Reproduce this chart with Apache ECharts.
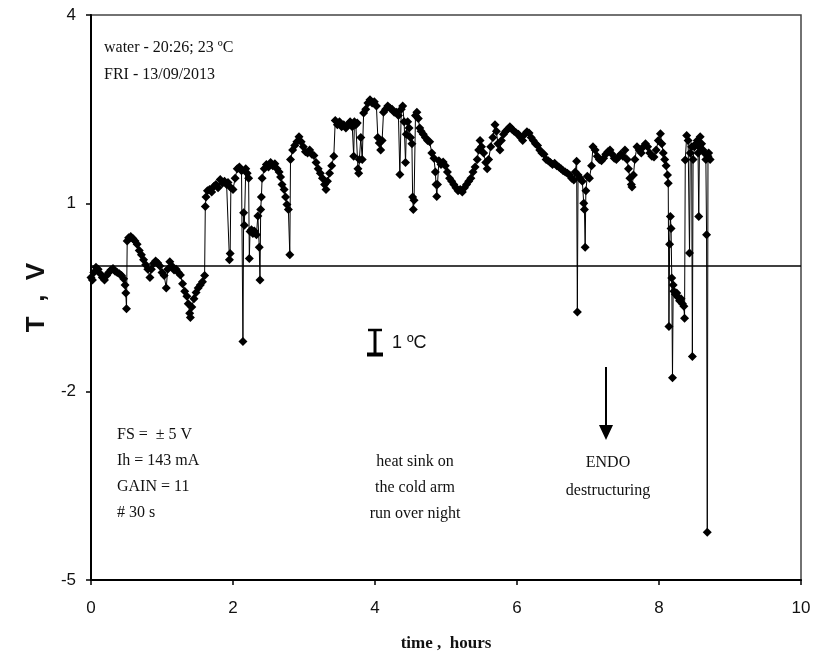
<!DOCTYPE html>
<html><head><meta charset="utf-8">
<script src="https://cdn.jsdelivr.net/npm/echarts@6/dist/echarts.min.js"></script>
<style>html,body{margin:0;padding:0;background:#fff}#c{width:816px;height:658px}</style>
</head><body><div id="c"></div>
<script>
// time in hours
const timeHours = [
0.00,0.02,0.04,0.07,0.10,0.13,0.16,0.19,0.22,0.25,0.28,0.31,0.34,0.37,0.40,0.43,0.46,0.48,0.49,0.50,
0.51,0.53,0.56,0.59,0.62,0.65,0.68,0.71,0.74,0.77,0.80,0.83,0.85,0.88,0.91,0.94,0.97,1.00,1.03,1.06,
1.08,1.11,1.14,1.17,1.20,1.23,1.26,1.29,1.32,1.35,1.37,1.39,1.40,1.42,1.45,1.48,1.51,1.54,1.57,1.60,
1.61,1.62,1.64,1.67,1.70,1.73,1.76,1.79,1.82,1.85,1.88,1.91,1.93,1.95,1.96,1.97,2.00,2.03,2.06,2.09,
2.12,2.14,2.15,2.16,2.18,2.20,2.22,2.23,2.24,2.26,2.28,2.30,2.33,2.35,2.37,2.38,2.39,2.40,2.41,2.44,
2.47,2.50,2.53,2.56,2.59,2.62,2.65,2.67,2.69,2.72,2.74,2.76,2.78,2.80,2.81,2.84,2.87,2.90,2.93,2.96,
2.99,3.02,3.05,3.08,3.11,3.14,3.17,3.20,3.23,3.26,3.29,3.31,3.33,3.36,3.39,3.42,3.44,3.47,3.50,3.53,
3.56,3.59,3.62,3.65,3.68,3.70,3.71,3.73,3.75,3.76,3.77,3.78,3.80,3.82,3.84,3.87,3.90,3.93,3.96,3.99,
4.02,4.04,4.06,4.08,4.10,4.12,4.15,4.18,4.21,4.24,4.27,4.30,4.33,4.35,4.37,4.39,4.41,4.43,4.44,4.46,
4.48,4.50,4.52,4.53,4.54,4.55,4.57,4.59,4.61,4.63,4.65,4.68,4.71,4.74,4.77,4.80,4.83,4.85,4.86,4.87,
4.88,4.90,4.93,4.96,4.99,5.02,5.05,5.08,5.11,5.14,5.17,5.20,5.23,5.26,5.29,5.32,5.35,5.38,5.41,5.44,
5.46,5.48,5.50,5.53,5.56,5.58,5.60,5.63,5.66,5.69,5.71,5.73,5.76,5.78,5.81,5.84,5.87,5.90,5.93,5.96,
5.99,6.02,6.05,6.08,6.11,6.14,6.17,6.20,6.23,6.26,6.29,6.32,6.35,6.38,6.41,6.44,6.47,6.50,6.53,6.56,
6.59,6.62,6.65,6.68,6.71,6.74,6.77,6.80,6.82,6.84,6.85,6.86,6.89,6.92,6.94,6.95,6.96,6.97,6.99,7.02,
7.05,7.07,7.10,7.13,7.16,7.19,7.22,7.25,7.28,7.31,7.34,7.37,7.40,7.43,7.46,7.49,7.52,7.55,7.57,7.59,
7.61,7.62,7.64,7.66,7.69,7.72,7.75,7.78,7.81,7.84,7.87,7.90,7.93,7.96,7.99,8.02,8.04,8.06,8.08,8.10,
8.12,8.13,8.14,8.15,8.16,8.17,8.18,8.19,8.20,8.21,8.23,8.25,8.27,8.29,8.31,8.33,8.35,8.36,8.37,8.39,
8.41,8.43,8.44,8.46,8.47,8.48,8.50,8.52,8.54,8.55,8.56,8.57,8.58,8.60,8.62,8.64,8.66,8.67,8.68,8.69,
8.70,8.72
];
// T signal in volts
const voltage = [
-0.18,-0.22,-0.10,-0.02,-0.05,-0.12,-0.18,-0.22,-0.15,-0.10,-0.06,-0.04,-0.08,-0.10,-0.12,-0.15,-0.20,-0.30,-0.43,-0.68,
0.40,0.45,0.47,0.44,0.40,0.35,0.25,0.18,0.10,0.02,-0.05,-0.18,-0.05,0.04,0.08,0.05,0.00,-0.10,-0.15,-0.35,
-0.05,0.07,0.00,-0.06,-0.05,-0.10,-0.14,-0.28,-0.40,-0.48,-0.60,-0.75,-0.82,-0.65,-0.52,-0.42,-0.35,-0.30,-0.25,-0.15,
0.95,1.10,1.20,1.22,1.18,1.27,1.30,1.25,1.38,1.32,1.35,1.30,1.33,0.10,0.20,1.25,1.22,1.40,1.55,1.58,
1.52,-1.20,0.85,0.65,1.55,1.48,1.40,0.12,0.55,0.58,0.52,0.56,0.50,0.80,0.30,-0.22,0.90,1.10,1.40,1.55,
1.62,1.58,1.65,1.60,1.63,1.55,1.50,1.42,1.30,1.22,1.10,0.98,0.90,0.18,1.70,1.85,1.92,1.98,2.06,1.98,
1.90,1.82,1.80,1.85,1.78,1.76,1.65,1.55,1.48,1.40,1.30,1.22,1.35,1.48,1.60,1.75,2.32,2.25,2.30,2.22,
2.25,2.20,2.25,2.30,2.22,1.75,2.30,2.25,2.28,1.55,1.48,1.70,2.05,1.70,2.44,2.50,2.60,2.65,2.60,2.62,
2.55,2.05,1.96,1.85,2.00,2.45,2.50,2.55,2.52,2.50,2.45,2.45,2.40,1.46,2.50,2.55,2.30,1.65,2.10,2.30,
2.20,2.05,1.95,1.10,0.90,1.05,2.40,2.45,2.35,2.20,2.15,2.10,2.05,2.00,1.98,1.80,1.72,1.50,1.30,1.11,
1.30,1.68,1.62,1.66,1.60,1.50,1.40,1.35,1.30,1.25,1.20,1.22,1.18,1.25,1.30,1.35,1.40,1.50,1.58,1.70,
1.85,2.00,1.90,1.80,1.65,1.55,1.70,1.90,2.05,2.25,2.15,1.95,1.85,2.00,2.10,2.15,2.18,2.22,2.18,2.15,
2.12,2.10,2.05,2.00,2.10,2.14,2.12,2.05,2.00,1.95,1.92,1.85,1.80,1.78,1.70,1.68,1.65,1.62,1.64,1.60,
1.58,1.55,1.52,1.50,1.48,1.45,1.40,1.37,1.50,1.67,-0.73,1.45,1.40,1.35,1.00,0.90,0.30,1.20,1.43,1.40,
1.60,1.90,1.85,1.75,1.70,1.68,1.72,1.78,1.82,1.85,1.78,1.72,1.70,1.74,1.78,1.75,1.85,1.70,1.55,1.40,
1.30,1.26,1.45,1.70,1.90,1.85,1.80,1.90,1.95,1.90,1.80,1.75,1.74,1.85,2.00,2.11,1.95,1.80,1.70,1.60,
1.45,1.32,-0.96,0.35,0.79,0.60,-0.19,-1.78,-0.30,-0.40,-0.45,-0.43,-0.50,-0.55,-0.52,-0.60,-0.64,-0.83,1.69,2.08,
2.00,0.21,1.80,1.90,-1.44,1.70,1.90,1.95,2.00,1.80,0.79,1.90,2.06,1.95,1.85,1.80,1.70,0.50,-4.24,1.75,
1.80,1.70
];
const xTicks = { min: 0, max: 10, step: 2 };
const yTicks = { min: -5, max: 4, step: 3 };

const seriesData = timeHours.map((t, i) => [t, voltage[i]]);

const chart = echarts.init(document.getElementById('c'), null, { renderer: 'canvas' });
const serif = '"Liberation Serif", "Times New Roman", serif';
const sans = '"Liberation Sans", Arial, sans-serif';
const annot = (x, y, text, align) => ({
  type: 'text', x: x, y: y,
  style: { text: text, font: '16px ' + serif, fill: '#111', textAlign: align || 'left', textVerticalAlign: 'middle' }
});

chart.setOption({
  animation: false,
  backgroundColor: '#fff',
  grid: { left: 91, right: 15, top: 15, bottom: 78, show: true, borderColor: '#444', borderWidth: 1.5, backgroundColor: 'transparent' },
  xAxis: {
    type: 'value', min: xTicks.min, max: xTicks.max, interval: xTicks.step,
    axisLine: { show: true, onZero: false, lineStyle: { color: '#000', width: 2 } },
    axisTick: { show: true, inside: false, length: 5, lineStyle: { color: '#000', width: 1.5 } },
    axisLabel: { fontFamily: sans, fontSize: 17, color: '#111', margin: 20 },
    splitLine: { show: false },
    name: 'time ,  hours', nameLocation: 'middle', nameGap: 55,
    nameTextStyle: { fontFamily: serif, fontWeight: 'bold', fontSize: 17, color: '#111' }
  },
  yAxis: {
    type: 'value', min: yTicks.min, max: yTicks.max, interval: yTicks.step,
    axisLine: { show: true, onZero: false, lineStyle: { color: '#000', width: 2 } },
    axisTick: { show: true, inside: false, length: 5, lineStyle: { color: '#000', width: 1.5 } },
    axisLabel: { fontFamily: sans, fontSize: 17, color: '#111', margin: 15 },
    splitLine: { show: false },
    name: 'T  ,  V', nameLocation: 'middle', nameGap: 40,
    nameTextStyle: { fontFamily: sans, fontWeight: 'bold', fontSize: 26, color: '#111' }
  },
  series: [{
    type: 'line',
    data: seriesData,
    symbol: 'diamond', symbolSize: 9,
    showAllSymbol: true,
    itemStyle: { color: '#000' },
    lineStyle: { color: '#000', width: 1 },
    markLine: {
      silent: true, symbol: 'none', label: { show: false },
      lineStyle: { color: '#000', width: 1.5, type: 'solid' },
      data: [{ yAxis: 0 }]
    },
    z: 3
  }],
  graphic: [
    annot(104, 48, 'water - 20:26; 23 ºC'),
    annot(104, 75, 'FRI - 13/09/2013'),
    annot(117, 435, 'FS =  ± 5 V'),
    annot(117, 461, 'Ih = 143 mA'),
    annot(117, 487, 'GAIN = 11'),
    annot(117, 513, '# 30 s'),
    annot(415, 462, 'heat sink on', 'center'),
    annot(415, 488, 'the cold arm', 'center'),
    annot(415, 514, 'run over night', 'center'),
    annot(608, 463, 'ENDO', 'center'),
    annot(608, 491, 'destructuring', 'center'),
    { type: 'line', shape: { x1: 606, y1: 367, x2: 606, y2: 428 }, style: { stroke: '#000', lineWidth: 2 } },
    { type: 'polygon', shape: { points: [[599, 425], [613, 425], [606, 440]] }, style: { fill: '#000' } },
    { type: 'line', shape: { x1: 375, y1: 331, x2: 375, y2: 354 }, style: { stroke: '#000', lineWidth: 3 } },
    { type: 'line', shape: { x1: 368, y1: 330, x2: 382, y2: 330 }, style: { stroke: '#000', lineWidth: 2.5 } },
    { type: 'line', shape: { x1: 367, y1: 354.5, x2: 383, y2: 354.5 }, style: { stroke: '#000', lineWidth: 4 } },
    { type: 'text', x: 392, y: 343, style: { text: '1 ºC', font: '18px ' + sans, fill: '#111', textVerticalAlign: 'middle' } }
  ]
});
</script>
</body></html>
